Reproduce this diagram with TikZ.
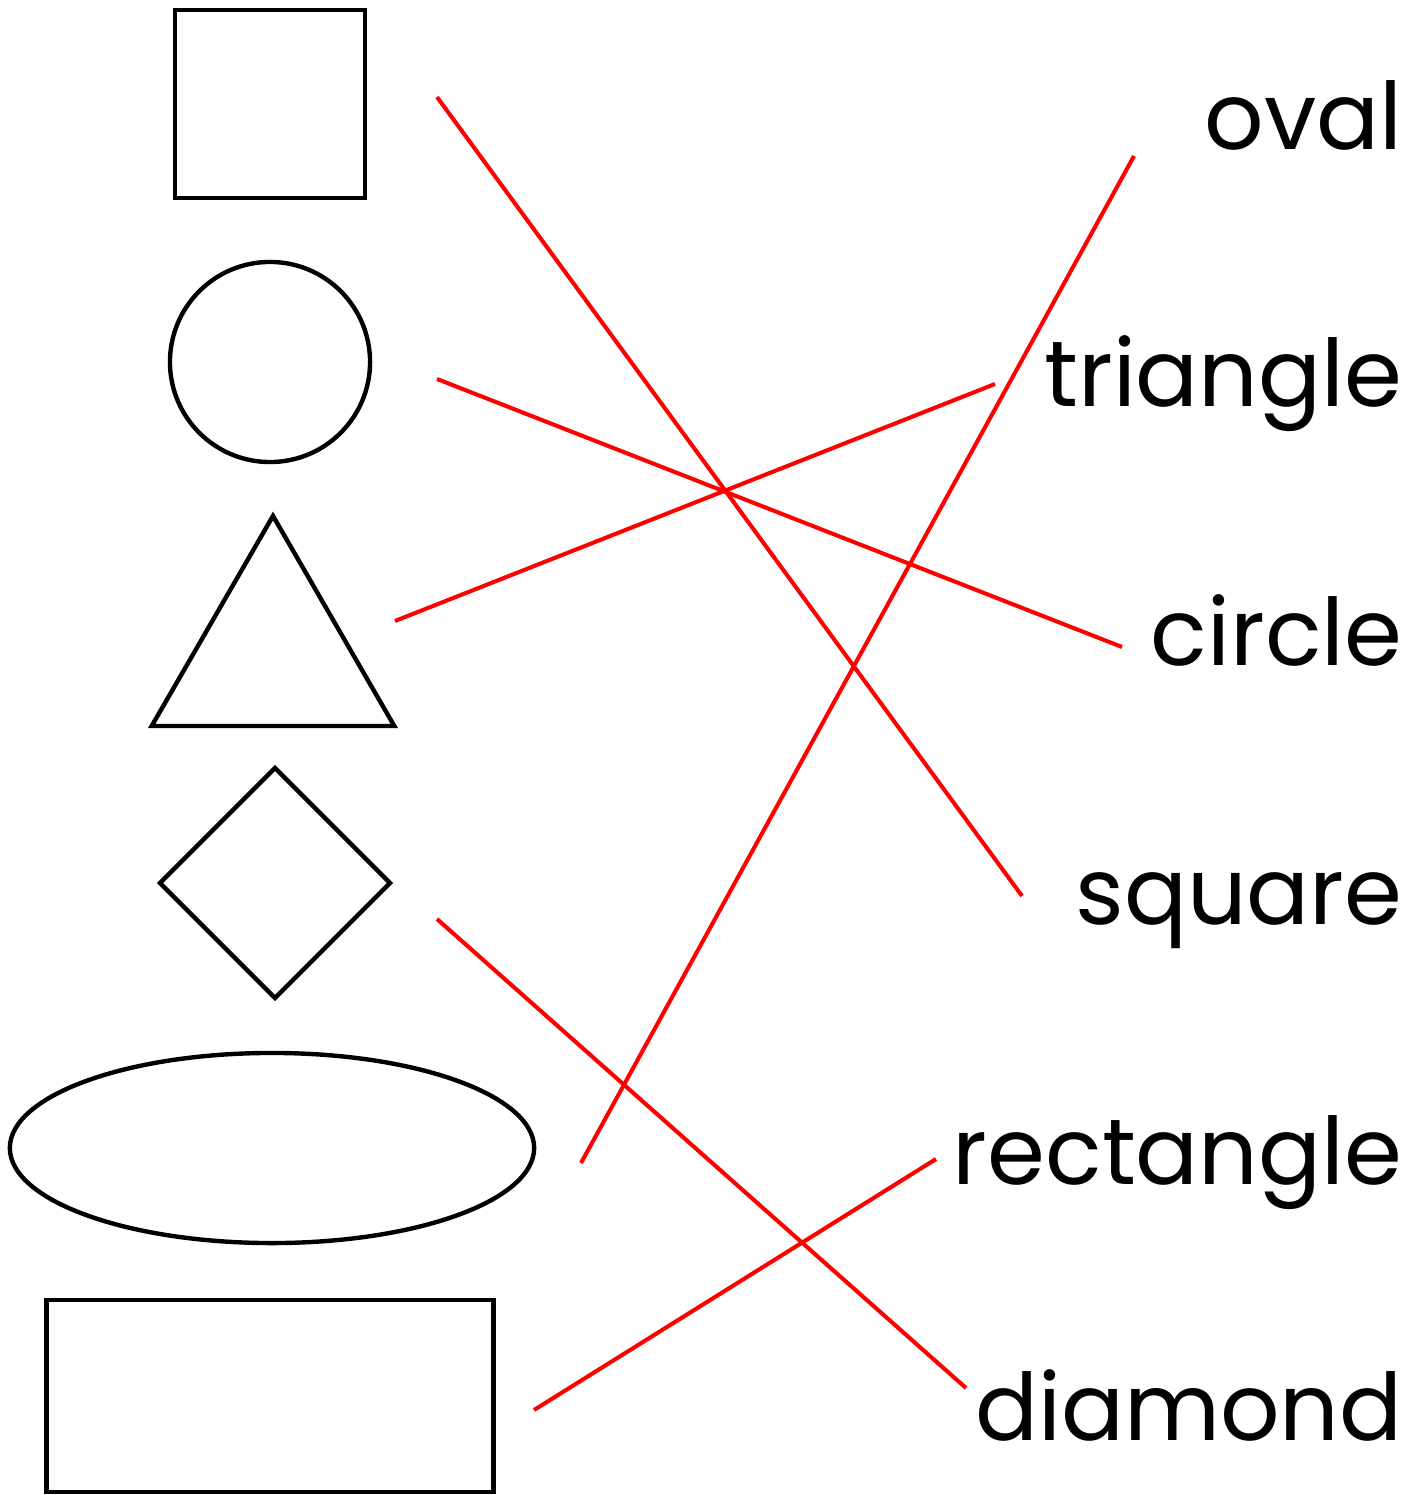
\documentclass[tikz,border=0pt]{standalone}
\usepackage{fontspec}
\setmainfont{Poppins}
\usetikzlibrary{shapes.geometric}

\begin{document}
\begin{tikzpicture}[x=0.01cm, y=-0.01cm,
        shp/.style={draw, line width=1.25pt, inner sep=0pt, outer sep=0pt},
        lbl/.style={anchor=base east, inner sep=0pt, font=\fontsize{26.5}{30}\selectfont},
        ln/.style={red, line width=1.15pt}]
        \useasboundingbox (0,0) rectangle (1423,1495);
        % shapes on the left
        \node[shp, minimum width=1.9cm, minimum height=1.88cm] (sq) at (270,104) {};
        \node[shp, circle, minimum size=2cm] (ci) at (270,362) {};
        \node[shp, regular polygon, regular polygon sides=3, minimum size=2.8cm] (tr) at (273,656) {};
        \node[shp, diamond, minimum width=2.3cm, minimum height=2.3cm] (di) at (275,883) {};
        \node[shp, ellipse, minimum width=5.24cm, minimum height=1.9cm] (ov) at (272,1148) {};
        \node[shp, minimum width=4.47cm, minimum height=1.92cm] (re) at (270,1396) {};
        % words on the right
        \node[lbl] (tOval) at (1403,150) {oval};
        \node[lbl] (tTri) at (1403,407) {triangle};
        \node[lbl] (tCirc) at (1403,666) {circle};
        \node[lbl] (tSq) at (1403,924) {square};
        \node[lbl] (tRect) at (1403,1184) {rectangle};
        \node[lbl] (tDia) at (1403,1440) {diamond};
        % line ends
        \coordinate (sqE) at (437,97);   \coordinate (sqW) at (1022,896);
        \coordinate (ciE) at (437,379);  \coordinate (ciW) at (1122,647);
        \coordinate (trE) at (395,621);  \coordinate (trW) at (995,384);
        \coordinate (diE) at (437,919);  \coordinate (diW) at (966,1388);
        \coordinate (ovE) at (581,1163); \coordinate (ovW) at (1134,156);
        \coordinate (reE) at (534,1410); \coordinate (reW) at (936,1159);
        \draw[ln] (sqE) -- (sqW);
        \draw[ln] (ciE) -- (ciW);
        \draw[ln] (trE) -- (trW);
        \draw[ln] (diE) -- (diW);
        \draw[ln] (ovE) -- (ovW);
        \draw[ln] (reE) -- (reW);
\end{tikzpicture}
\end{document}
